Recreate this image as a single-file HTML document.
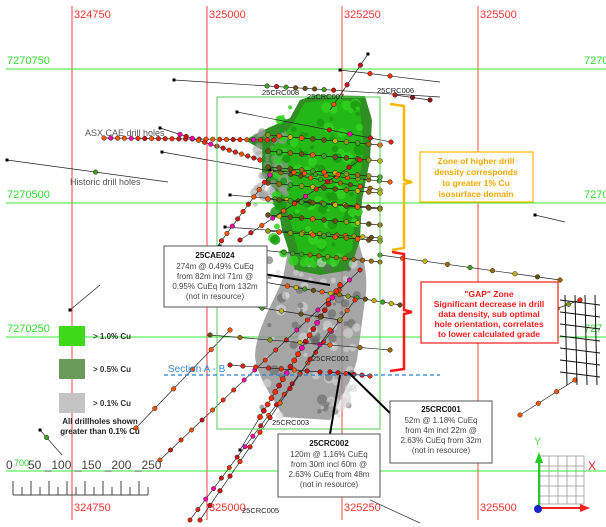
<!DOCTYPE html>
<html><head><meta charset="utf-8"><style>
html,body{margin:0;padding:0;background:#fff;}
svg{display:block;font-family:"Liberation Sans",sans-serif;}
</style></head><body>
<svg id="s" width="606" height="527" viewBox="0 0 606 527" xmlns="http://www.w3.org/2000/svg">
<rect width="606" height="527" fill="#fff"/>
<g stroke="#ff4040" stroke-width="1">
<line x1="72" y1="6" x2="72" y2="520"/>
<line x1="207" y1="6" x2="207" y2="520"/>
<line x1="342" y1="6" x2="342" y2="520"/>
<line x1="478" y1="6" x2="478" y2="520"/>
</g>
<g stroke="#33ee33" stroke-width="1">
<line x1="6" y1="69" x2="606" y2="69"/>
<line x1="6" y1="203" x2="606" y2="203"/>
<line x1="6" y1="337" x2="606" y2="337"/>
<line x1="6" y1="471" x2="606" y2="471"/>
</g>
<g fill="#ff3333" font-size="11">
<text x="74" y="18">324750</text><text x="209" y="18">325000</text><text x="344" y="18">325250</text><text x="480" y="18">325500</text>
<text x="74" y="511">324750</text><text x="209" y="511">325000</text><text x="344" y="511">325250</text><text x="480" y="511">325500</text>
</g>
<g fill="#33dd33" font-size="11">
<text x="7" y="64">7270750</text><text x="7" y="198">7270500</text><text x="7" y="332">7270250</text>
<text x="584" y="64">7270</text><text x="584" y="198">7270</text><text x="584" y="332">727</text>
</g>
<path d="M283,278 C275,300 255,330 255,357 C258,380 275,400 283,417 L330,420 C340,400 352,380 357,360 L365,300 C370,270 360,250 355,230 L290,240 Z" fill="#8f8f8f" opacity="0.8"/>
<path d="M262,150 L245,140 L268,128 L290,118 L300,100 L315,95 L365,96 L372,120 L370,160 L362,200 L360,240 L350,270 L320,275 L295,270 L282,230 L275,190 L262,175 Z" fill="#2f8f22"/>
<path d="M270,150 L292,125 L305,103 L340,98 L360,110 L364,150 L356,200 L352,250 L330,265 L300,258 L290,220 L280,185 Z" fill="#22c014" opacity="0.85"/>
<g id="dots"></g>
<rect x="217" y="97" width="163" height="332" fill="none" stroke="#55cc55" stroke-width="1"/>
<line x1="164" y1="375" x2="440" y2="375" stroke="#2a7fd4" stroke-width="1.3" stroke-dasharray="4,3"/>
<text x="168" y="372" fill="#3a8ad8" font-size="10">Section A - B</text>
<g font-size="7.5" fill="#222">
<text x="262" y="95">25CRC008</text><text x="307" y="99">25CRC007</text><text x="377" y="93">25CRC006</text>
<text x="272" y="425">25CRC003</text><text x="242" y="513">25CRC005</text>
<text x="312" y="361">25CRC001</text>
</g>
<g font-size="9" fill="#555"><text x="85" y="136">ASX CAE drill holes</text><text x="70" y="185">Historic drill holes</text></g>
<path d="M390,104 L404,106 L404,180 L412,182 L404,184 L404,248 L392,250" fill="none" stroke="#f8b800" stroke-width="2.5"/>
<path d="M392,252 L404,254 L404,310 L412,312 L404,314 L404,369 L390,371" fill="none" stroke="#ff1a1a" stroke-width="2.5"/>
<rect x="420" y="152" width="113" height="50" fill="#fff" stroke="#f8b800" stroke-width="1.2"/>
<g fill="#f5a800" font-size="8.5" font-weight="bold" text-anchor="middle">
<text x="476" y="164">Zone of higher drill</text><text x="476" y="175">density corresponds</text><text x="476" y="186">to greater 1% Cu</text><text x="476" y="197">isosurface domain</text></g>
<rect x="421" y="282" width="137" height="61" fill="#fff" stroke="#ff1a1a" stroke-width="1.2"/>
<g fill="#ff1a1a" font-size="8.5" font-weight="bold" text-anchor="middle">
<text x="489" y="297">"GAP" Zone</text><text x="489" y="307">Significant decrease in drill</text><text x="489" y="317">data density, sub optimal</text><text x="489" y="327">hole orientation, correlates</text><text x="489" y="337">to lower calculated grade</text></g>
<g stroke="#000" stroke-width="2"><line x1="252" y1="272" x2="330" y2="285"/><line x1="391" y1="414" x2="348" y2="372"/><line x1="330" y1="434" x2="340" y2="375"/></g>
<g stroke="#555" fill="#fff" stroke-width="1">
<rect x="164" y="246" width="103" height="61"/><rect x="390" y="401" width="102" height="62"/><rect x="278" y="434" width="102" height="63"/></g>
<g font-size="8" fill="#444" text-anchor="middle">
<text x="215" y="258" font-weight="bold" fill="#111">25CAE024</text>
<text x="215" y="269">274m @ 0.49% CuEq</text><text x="215" y="279">from 82m incl 71m @</text><text x="215" y="289">0.95% CuEq from 132m</text><text x="215" y="299">(not in resource)</text>
<text x="441" y="412" font-weight="bold" fill="#111">25CRC001</text>
<text x="441" y="423">52m @ 1.18% CuEq</text><text x="441" y="433">from 4m incl 22m @</text><text x="441" y="443">2.63% CuEq  from 32m</text><text x="441" y="453">(not in resource)</text>
<text x="329" y="446" font-weight="bold" fill="#111">25CRC002</text>
<text x="329" y="457">120m @ 1.16% CuEq</text><text x="329" y="467">from 30m incl 60m @</text><text x="329" y="477">2.63% CuEq  from 48m</text><text x="329" y="487">(not in resource)</text>
</g>
<rect x="59" y="326" width="26" height="20" fill="#3fd91a"/>
<rect x="59" y="359" width="26" height="20" fill="#6a9a5a"/>
<rect x="59" y="393" width="26" height="20" fill="#c4c4c4"/>
<g font-size="8" font-weight="bold" fill="#333"><text x="93" y="339">&gt; 1.0% Cu</text><text x="93" y="372">&gt; 0.5% Cu</text><text x="93" y="406">&gt; 0.1% Cu</text></g>
<g font-size="8" font-weight="bold" fill="#222" text-anchor="middle"><text x="100" y="424">All drillholes shown</text><text x="100" y="434">greater than 0.1% Cu</text></g>
<g font-size="12" fill="#444"><text x="6" y="469">0</text><text x="14" y="466" font-size="9" fill="#3c3">700</text><text x="28" y="469">50 _100 _150 _200 _250</text></g>
<g stroke="#444" stroke-width="1" id="scale"><line x1="13" y1="495" x2="148" y2="495"/></g>
<g stroke="#999" stroke-width="0.8" fill="none">
<rect x="540" y="456" width="44" height="48"/>
<line x1="549" y1="456" x2="549" y2="504"/><line x1="558" y1="456" x2="558" y2="504"/><line x1="567" y1="456" x2="567" y2="504"/><line x1="576" y1="456" x2="576" y2="504"/>
<line x1="540" y1="466" x2="584" y2="466"/><line x1="540" y1="476" x2="584" y2="476"/><line x1="540" y1="486" x2="584" y2="486"/><line x1="540" y1="496" x2="584" y2="496"/></g>
<line x1="539" y1="508" x2="539" y2="462" stroke="#2c2" stroke-width="2"/><polygon points="535,463 543,463 539,452" fill="#2c2"/>
<line x1="539" y1="508" x2="582" y2="508" stroke="#e22" stroke-width="2"/><polygon points="580,504 580,512 590,508" fill="#e22"/>
<circle cx="538" cy="509" r="4" fill="#12c"/>
<text x="534" y="445" fill="#5d5" font-size="11">Y</text>
<text x="588" y="470" fill="#e22" font-size="12">X</text>
</svg>
<script>
(function(){
var NS="http://www.w3.org/2000/svg",g=document.getElementById('dots');
var seed=7;function r(){seed=(seed*16807)%2147483647;return seed/2147483647;}
function el(t,a){var e=document.createElementNS(NS,t);for(var k in a)e.setAttribute(k,a[k]);g.appendChild(e);return e;}
var sc=document.getElementById('scale');
for(var i=0;i<=15;i++){var x=13+i*9;var e=document.createElementNS(NS,'line');e.setAttribute('x1',x);e.setAttribute('x2',x);e.setAttribute('y1',i%2?487:481);e.setAttribute('y2',495);sc.appendChild(e);}
for(i=0;i<90;i++){el('circle',{cx:262+r()*95,cy:260+r()*160,r:1.5+r()*4,fill:r()<.5?'#666':'#d8d8d8',opacity:.6});}
for(i=0;i<60;i++){el('circle',{cx:255+r()*35,cy:130+r()*75,r:1.5+r()*4,fill:'#999',opacity:.5});}
for(i=0;i<110;i++){el('circle',{cx:272+r()*90,cy:102+r()*165,r:1.5+r()*4,fill:r()<.5?'#1a9a10':'#30d020',opacity:.85});}
function hole(x1,y1,x2,y2,n,a,b,pal,rad){el('line',{x1:x1,y1:y1,x2:x2,y2:y2,stroke:'#222','stroke-width':0.7});
 el('rect',{x:x1-1.5,y:y1-1.5,width:3,height:3,fill:'#000'});
 for(var k=0;k<n;k++){var t=a+(b-a)*k/Math.max(1,n-1);var c=pal[Math.floor(r()*pal.length)];
 el('circle',{cx:x1+(x2-x1)*t,cy:y1+(y2-y1)*t,r:rad||2.3,fill:c,stroke:'#222','stroke-width':0.5});}}
var hot=['#ff2a00','#e02010','#ff00aa','#ff5500','#cc1111'],warm=['#c8b400','#8a9a10','#6a5010','#40a020','#9a6a00','#ff5500'];
hole(174,80,440,97,8,0.35,0.6,['#6a5010','#40a020','#cc1111']);
hole(340,70,440,82,2,0.3,0.5,['#ff2a00']);
hole(368,54,330,110,3,0.2,0.9,hot);
hole(395,95,430,100,3,0,1,['#cc1111','#8a1010']);
hole(104,138,274,140,26,0,1,hot);
hole(160,128,260,160,14,0.2,1,hot);
hole(7,160,168,182,1,0.55,0.55,['#40a020']);
hole(237,112,391,142,4,0.6,1,hot);
hole(162,152,380,190,12,0.5,1,warm);
hole(230,195,380,208,10,0.3,1,warm);
hole(220,246,380,262,12,0.4,1,warm);
hole(175,267,400,305,14,0.5,1,warm);
hole(225,227,380,238,10,0.5,1,warm);
hole(270,170,390,182,10,0.2,1,warm);
for(var j=0;j<7;j++)hole(268,135+j*16,380,145+j*16,11,0,1,warm,2.5);
hole(200,270,270,175,14,0,1,hot);
hole(240,240,360,160,12,0,1,hot);
hole(160,460,360,270,20,0,1,hot,2.2);
hole(190,520,355,300,22,0,1,hot,2.2);
hole(240,450,340,285,22,0.2,1,['#ff00aa','#cc1111','#ff2a00'],2.6);
hole(200,520,330,330,14,0,1,hot);
hole(210,300,340,320,7,0.1,1,warm);
hole(210,335,390,350,7,0,1,warm);
hole(230,365,320,372,8,0,1,hot);
hole(330,372,370,376,6,0,1,['#cc1111','#ff2a00']);
hole(136,428,230,330,6,0,1,['#ff5500']);
hole(70,310,100,285,0,0,1,hot);
hole(40,430,62,455,1,0.3,0.3,['#40a020']);
hole(380,255,560,280,9,0,1,warm);
hole(500,330,580,300,8,0,1,['#40a020','#8a9a10','#ff2a00']);
hole(520,415,575,380,4,0,1,['#ff5500']);
hole(535,215,565,222,0,0,1,hot);
for(j=0;j<7;j++){el('line',{x1:560,y1:300+j*12,x2:600,y2:305+j*12,stroke:'#111','stroke-width':1});}
for(j=0;j<4;j++){el('line',{x1:565+j*10,y1:295,x2:567+j*10,y2:385,stroke:'#111','stroke-width':1});}
el('line',{x1:370,y1:500,x2:420,y2:523,stroke:'#333','stroke-width':0.7});
})();
</script>
</body></html>
